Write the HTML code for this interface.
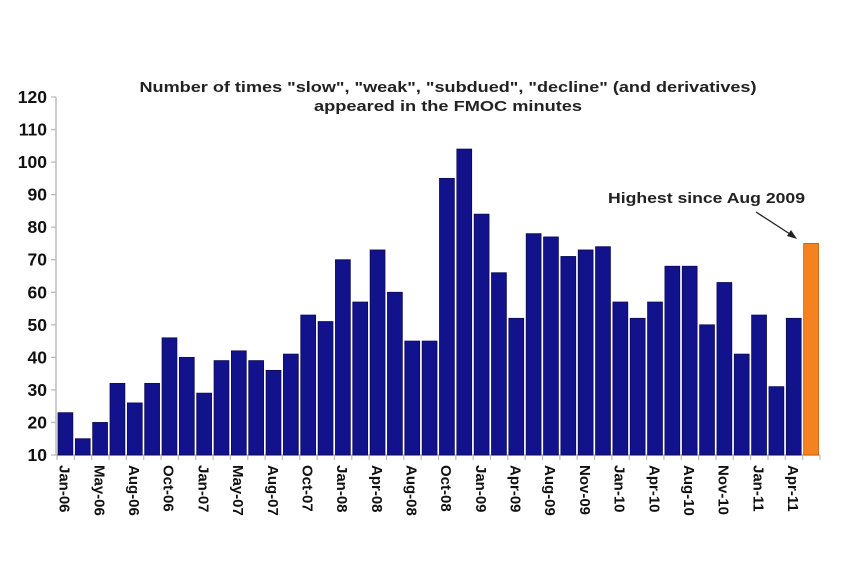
<!DOCTYPE html>
<html><head><meta charset="utf-8"><style>
body{margin:0;background:#fff;width:862px;height:575px;overflow:hidden;font-family:"Liberation Sans",Arial,sans-serif}
</style></head><body>
<svg id="c" width="862" height="575" xmlns="http://www.w3.org/2000/svg">
<text x="448" y="92" text-anchor="middle" font-size="14.5" font-weight="bold" fill="#222"><tspan x="448" dy="0" textLength="617" lengthAdjust="spacingAndGlyphs">Number of times "slow", "weak", "subdued", "decline" (and derivatives)</tspan><tspan x="448" dy="19" textLength="268" lengthAdjust="spacingAndGlyphs">appeared in the FMOC minutes</tspan></text>
<g id="axes"></g><g id="bars"></g><g id="xl"></g>
<text x="608" y="203" font-size="14.5" font-weight="bold" fill="#222" textLength="197" lengthAdjust="spacingAndGlyphs">Highest since Aug 2009</text>
<line x1="756" y1="212" x2="793" y2="236" stroke="#222" stroke-width="1.3"/>
<polygon points="797,239 787,236 791,230" fill="#222"/>
</svg>
<script>
const values=[23,15,20,32,26,32,46,40,29,39,42,39,36,41,53,51,70,57,73,60,45,45,95,104,84,66,52,78,77,71,73,74,57,52,57,68,68,50,63,41,53,31,52,75];
const xLabels=["Jan-06","May-06","Aug-06","Oct-06","Jan-07","May-07","Aug-07","Oct-07","Jan-08","Apr-08","Aug-08","Oct-08","Jan-09","Apr-09","Aug-09","Nov-09","Jan-10","Apr-10","Aug-10","Nov-10","Jan-11","Apr-11"];
const yTicks=[10,20,30,40,50,60,70,80,90,100,110,120];
const NS="http://www.w3.org/2000/svg";
const x0=57,x1=820,yTop=97,yBot=455,yMin=10,yMax=120;
const step=(x1-x0)/values.length;
const y=v=>yBot-(v-yMin)/(yMax-yMin)*(yBot-yTop);
const xb=i=>x0+i*step;
function mk(t,a,p){const e=document.createElementNS(NS,t);for(const k in a)e.setAttribute(k,a[k]);p.appendChild(e);return e;}
const ax=document.getElementById('axes');
let l=mk('line',{x1:x0-1,y1:yTop,x2:x0-1,y2:yBot,stroke:'#bbb','stroke-width':1.5},ax);


l=mk('line',{x1:x0-1,y1:yBot,x2:x1,y2:yBot,stroke:'#bbb','stroke-width':1.5},ax);


yTicks.forEach(v=>{
  const t=mk('line',{x1:x0-6,x2:x0-1,y1:y(v),y2:y(v),stroke:'#bbb','stroke-width':1.3},ax);
  
  
  const tx=mk('text',{x:x0-10,y:y(v)+6,'text-anchor':'end','font-size':17.5,'font-weight':'bold',fill:'#111'},ax);
  tx.textContent=v;
  
  
});
for(let i=0;i<=values.length;i++){
  const t=mk('line',{x1:xb(i),x2:xb(i),y1:yBot,y2:yBot+5,stroke:'#bbb','stroke-width':1.2},ax);
  
  
}
const bg=document.getElementById('bars');
values.forEach((v,i)=>{
  const last=i===values.length-1;
  const r=mk('rect',{x:xb(i)+1,y:y(v),width:step-2.5,height:yBot-y(v),fill:last?'#f58220':'#12128c',stroke:last?'#c05a00':'#0a0a55','stroke-width':0.8},bg);
  
  
});
const xl=document.getElementById('xl');
xLabels.forEach((s,j)=>{
  const cx=xb(j*2)+step/2-6, ty=465;
  const t=mk('text',{x:0,y:0,transform:`translate(${cx},${ty}) rotate(90)`,'font-size':15,'font-weight':'bold',fill:'#111'},xl);
  t.textContent=s;
  
  
});
</script>
</body></html>
